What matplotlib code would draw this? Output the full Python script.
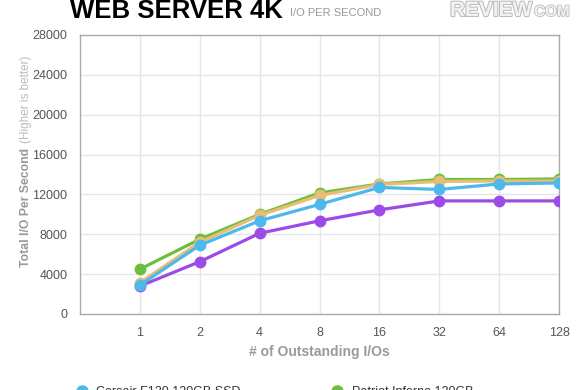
import matplotlib
matplotlib.use("Agg")
import matplotlib.pyplot as plt
import matplotlib.patheffects as pe
from matplotlib.lines import Line2D

plt.rcParams['font.family'] = ['Liberation Sans', 'DejaVu Sans']

categories = ["1", "2", "4", "8", "16", "32", "64", "128"]
series_names = ["Corsair F120 120GB SSD", "Patriot Inferno 120GB",
                "OCZ Vertex 2 120GB", "Intel 320 Series 120GB"]
corsair = [2900, 6900, 9350, 11000, 12700, 12500, 13050, 13150]
patriot = [4500, 7500, 10000, 12150, 13050, 13500, 13500, 13550]
tan_series = [3150, 7200, 9900, 11900, 13000, 13300, 13350, 13350]
purple_series = [2800, 5250, 8100, 9350, 10450, 11350, 11350, 11350]
yticks = [0, 4000, 8000, 12000, 16000, 20000, 24000, 28000]

c_blue = "#4db8ec"
c_green = "#6cbf3c"
c_tan = "#e9bd74"
c_purple = "#9b4be6"

fig = plt.figure(figsize=(5.8, 3.9), dpi=100)
ax = fig.add_axes([80/580, 76/390, 479/580, 279/390])

x = list(range(1, len(categories) + 1))
lw = 2.3
ms = 7.5
ax.plot(x, purple_series, color=c_purple, lw=lw, marker='o', ms=ms, zorder=3)
ax.plot(x, patriot, color=c_green, lw=lw, marker='o', ms=ms, zorder=4)
ax.plot(x, tan_series, color=c_tan, lw=lw, marker='o', ms=ms, zorder=5)
ax.plot(x, corsair, color=c_blue, lw=lw, marker='o', ms=ms, zorder=6)

ax.set_xlim(0, len(categories))
ax.set_ylim(0, 28000)
ax.set_xticks(x)
ax.set_xticklabels(categories)
ax.set_yticks(yticks)
ax.set_yticklabels([str(v) for v in yticks])
ax.tick_params(axis='both', length=0, labelsize=9, colors='#555555')
ax.tick_params(axis='y', pad=9)
ax.tick_params(axis='x', pad=9)
ax.grid(True, color='#e6e6e6', lw=1)
ax.set_axisbelow(True)
for s in ax.spines.values():
    s.set_color('#aaaaaa')
    s.set_linewidth(1)

ax.set_xlabel("# of Outstanding I/Os", fontsize=10, fontweight='bold',
              color='#999999', labelpad=5)

fig.text(26/580, 1 - 207/390, "Total I/O Per Second", rotation=90,
         fontsize=8.8, fontweight='bold', color='#999999', ha='center', va='center')
fig.text(26/580, 1 - 99/390, "(Higher is better)", rotation=90,
         fontsize=8.5, color='#bbbbbb', ha='center', va='center')

fig.text(70/580, 1 - 18/390, "WEB SERVER 4K", fontsize=18.5, fontweight='bold',
         color='black', ha='left', va='baseline')
fig.text(290/580, 1 - 16/390, "I/O PER SECOND", fontsize=8, color='#999999',
         ha='left', va='baseline')

logo = fig.text(450/580, 1 - 16/390, "REVIEW", fontsize=15, fontweight='bold',
                color='#f2f2f2', ha='left', va='baseline')
logo.set_path_effects([pe.withStroke(linewidth=1.5, foreground='#bdbdbd')])
logo2 = fig.text(534/580, 1 - 16/390, "COM", fontsize=11, fontweight='bold',
                 color='#f2f2f2', ha='left', va='baseline')
logo2.set_path_effects([pe.withStroke(linewidth=1.2, foreground='#bdbdbd')])

leg_kw = dict(loc='upper left', frameon=False, fontsize=9, borderpad=0,
              handlelength=1.0, handletextpad=0.7, labelspacing=0.6,
              labelcolor='#333333')


def h(c):
    return Line2D([], [], color=c, marker='o', ms=8, lw=0)


fig.legend([h(c_blue), h(c_tan)], [series_names[0], series_names[2]],
           bbox_to_anchor=(69/580, 10/390), **leg_kw)
fig.legend([h(c_green), h(c_purple)], [series_names[1], series_names[3]],
           bbox_to_anchor=(324/580, 10/390), **leg_kw)

fig.savefig("out.png", dpi=100)
